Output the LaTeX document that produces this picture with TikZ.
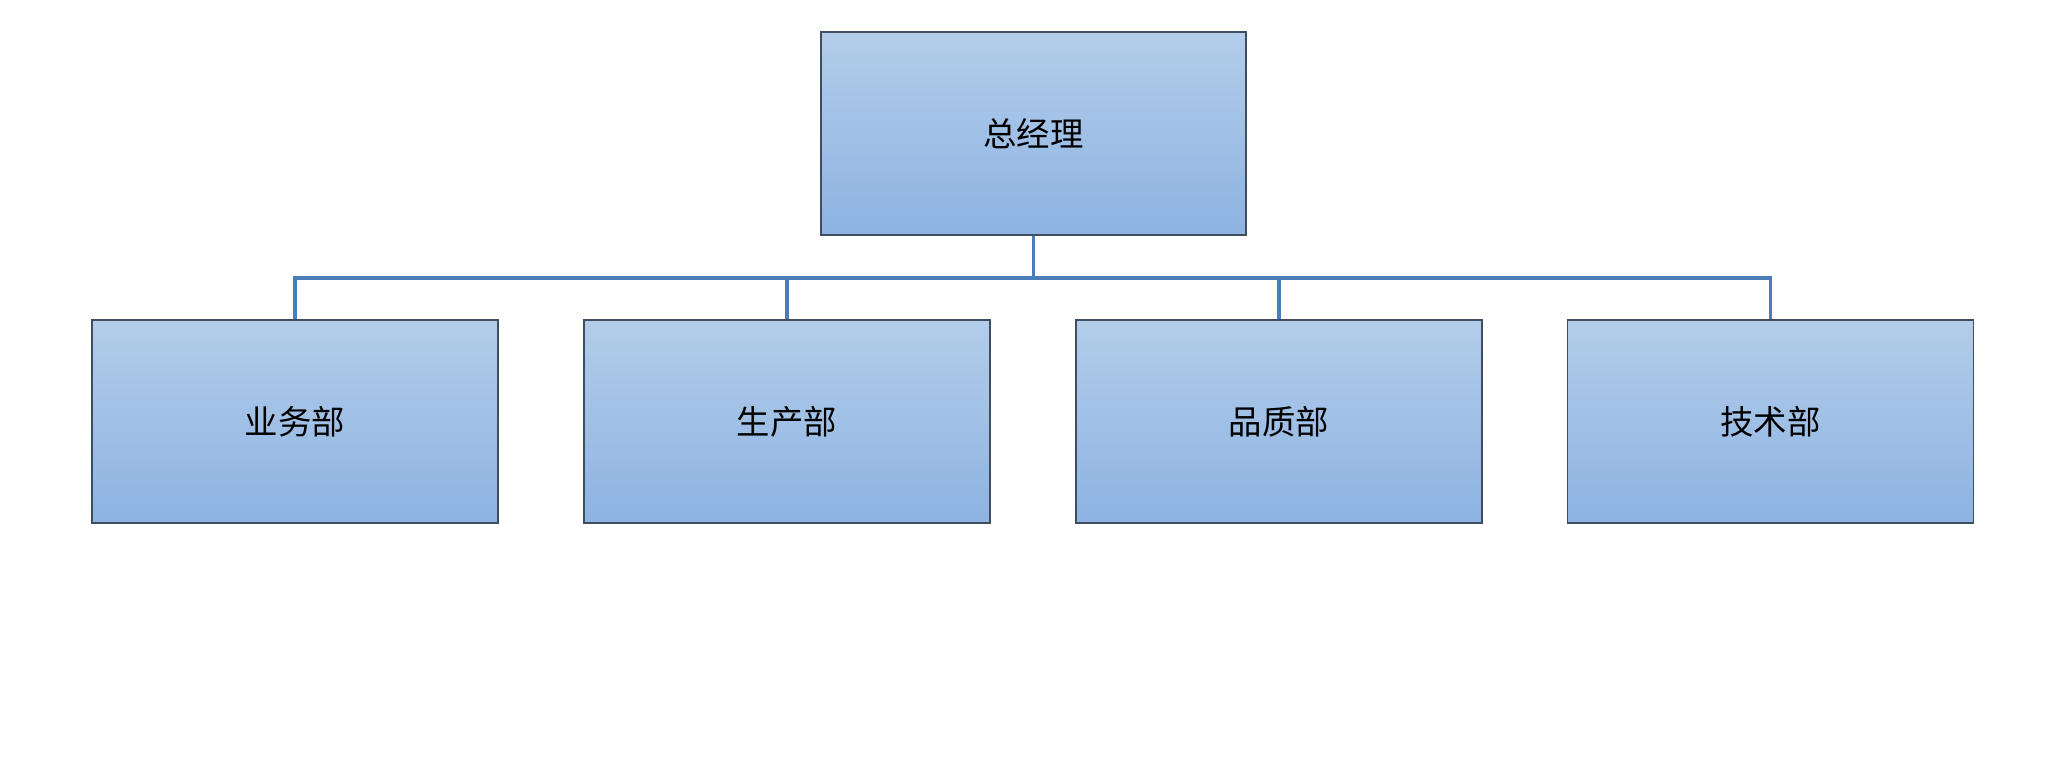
\documentclass[tikz,border=0pt]{standalone}
\usepackage{fontspec}
\newfontfamily\cjk{Noto Sans CJK SC}
\usetikzlibrary{positioning}
\definecolor{boxtop}{HTML}{B3CDEA}
\definecolor{boxbot}{HTML}{8DB3E2}
\definecolor{boxline}{HTML}{3E4E60}
\definecolor{linkblue}{HTML}{4A7EBB}
\tikzset{
  dept/.style={rectangle,draw=boxline,line width=0.35pt,top color=boxtop,bottom color=boxbot,
    minimum width=4.06cm,minimum height=2.03cm,inner sep=0pt,font=\cjk\fontsize{9.5}{11}\selectfont},
  link/.style={draw=linkblue,line width=1.1pt}
}
\begin{document}
\begin{tikzpicture}
\useasboundingbox (0,0) rectangle (20.55,-7.83);
\node[dept,minimum width=4.25cm] (gm) at (10.335,-1.335) {总经理};
\node[dept] (sales) at (2.95,-4.215) {业务部};
\node[dept] (prod) at (7.87,-4.215) {生产部};
\node[dept] (qual) at (12.79,-4.215) {品质部};
\node[dept] (tech) at (17.705,-4.215) {技术部};

\coordinate (bus) at (10.335,-2.78);
\foreach \d in {sales,prod,qual,tech}
  \draw[link] (gm.south) -- (bus) -| (\d.north);
\end{tikzpicture}
\end{document}
